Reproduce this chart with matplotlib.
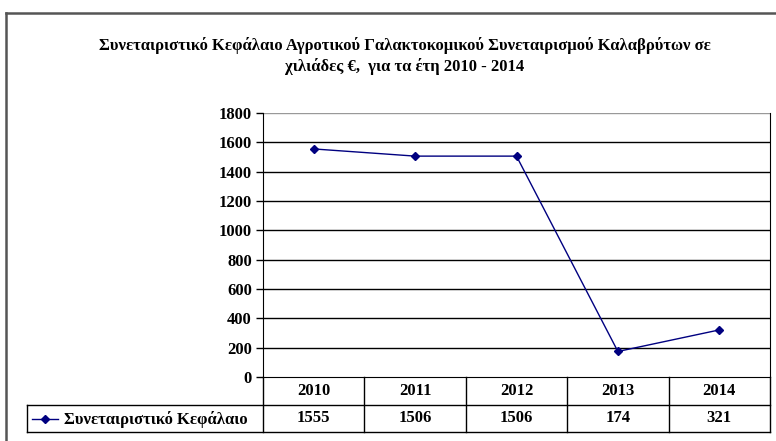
import matplotlib
matplotlib.use("Agg")
import matplotlib.pyplot as plt
from matplotlib.lines import Line2D
import matplotlib.transforms as mtransforms

years = ["2010", "2011", "2012", "2013", "2014"]
values = [1555, 1506, 1506, 174, 321]
series_name = "Συνεταιριστικό Κεφάλαιο"
title = "Συνεταιριστικό Κεφάλαιο Αγροτικού Γαλακτοκομικού Συνεταιρισμού Καλαβρύτων σε\nχιλιάδες €,  για τα έτη 2010 - 2014"
yticks = [0, 200, 400, 600, 800, 1000, 1200, 1400, 1600, 1800]

W, H = 776, 441
fig = plt.figure(figsize=(W / 100, H / 100), dpi=100)
plt.rcParams['font.family'] = ['Liberation Serif', 'DejaVu Serif']
FS = 12

def fx(px):
    return px / W

def fy(py):
    return 1 - py / H

# outer chart frame
fig.add_artist(Line2D([fx(6), fx(6)], [fy(13), fy(441)], color='#555555', lw=1.8))
fig.add_artist(Line2D([fx(6), fx(776)], [fy(13), fy(13)], color='#555555', lw=1.8))

# title
fig.text(fx(405), fy(56), title, ha='center', va='center', fontsize=12,
         fontweight='bold', linespacing=1.3)

left, right, top, bottom = 263, 770, 113, 377
ax = fig.add_axes([fx(left), fy(bottom), fx(right) - fx(left), fy(top) - fy(bottom)])
x = list(range(len(years)))
ax.plot(x, values, color='#000080', lw=1.0, marker='D', markersize=4.5,
        markerfacecolor='#000080', markeredgecolor='#000080', zorder=3)
ax.set_xlim(-0.5, len(years) - 0.5)
ax.set_ylim(0, 1800)
ax.set_yticks(yticks)
ax.set_yticklabels([str(v) for v in yticks], fontsize=FS, fontweight='bold')
ax.set_xticks([])
for v in yticks[1:-1]:
    ax.axhline(v, color='black', lw=1.0, zorder=1)
ax.axhline(1800, color='#999999', lw=1.0, zorder=1)
ax.spines['top'].set_visible(False)
ax.spines['bottom'].set_color('black')
ax.spines['left'].set_color('black')
ax.spines['right'].set_color('black')
ax.tick_params(axis='y', length=5, width=1, pad=3, colors='black')

# data table below the axes
axh = bottom - top
r1 = -(405 - bottom) / axh
r2 = -(432 - bottom) / axh
trans = mtransforms.blended_transform_factory(ax.transData, ax.transAxes)
for i in range(len(years) + 1):
    xb = i - 0.5
    ax.plot([xb, xb], [0, r2], transform=trans, color='black', lw=1.0, clip_on=False)
legend_left = (27 - left) / (right - left) * len(years) - 0.5
ax.plot([legend_left, len(years) - 0.5], [r1, r1], transform=trans, color='black', lw=1.0, clip_on=False)
ax.plot([legend_left, len(years) - 0.5], [r2, r2], transform=trans, color='black', lw=1.0, clip_on=False)
ax.plot([legend_left, legend_left], [r1, r2], transform=trans, color='black', lw=1.0, clip_on=False)

for i, (yr, v) in enumerate(zip(years, values)):
    ax.text(i, r1 / 2, yr, transform=trans, ha='center', va='center',
            fontsize=FS, fontweight='bold')
    ax.text(i, (r1 + r2) / 2, str(v), transform=trans, ha='center', va='center',
            fontsize=FS, fontweight='bold')

# legend key inside the table
ax2 = fig.add_axes([0, 0, 1, 1], facecolor='none')
ax2.set_xlim(0, W)
ax2.set_ylim(H, 0)
ax2.axis('off')
ax2.plot([32, 58], [419, 419], color='#000080', lw=1.0)
ax2.plot([45], [419], marker='D', markersize=4.5, color='#000080')
ax2.text(64, 419.5, series_name, ha='left', va='center', fontsize=FS, fontweight='bold')

fig.savefig("out.png", dpi=100)
